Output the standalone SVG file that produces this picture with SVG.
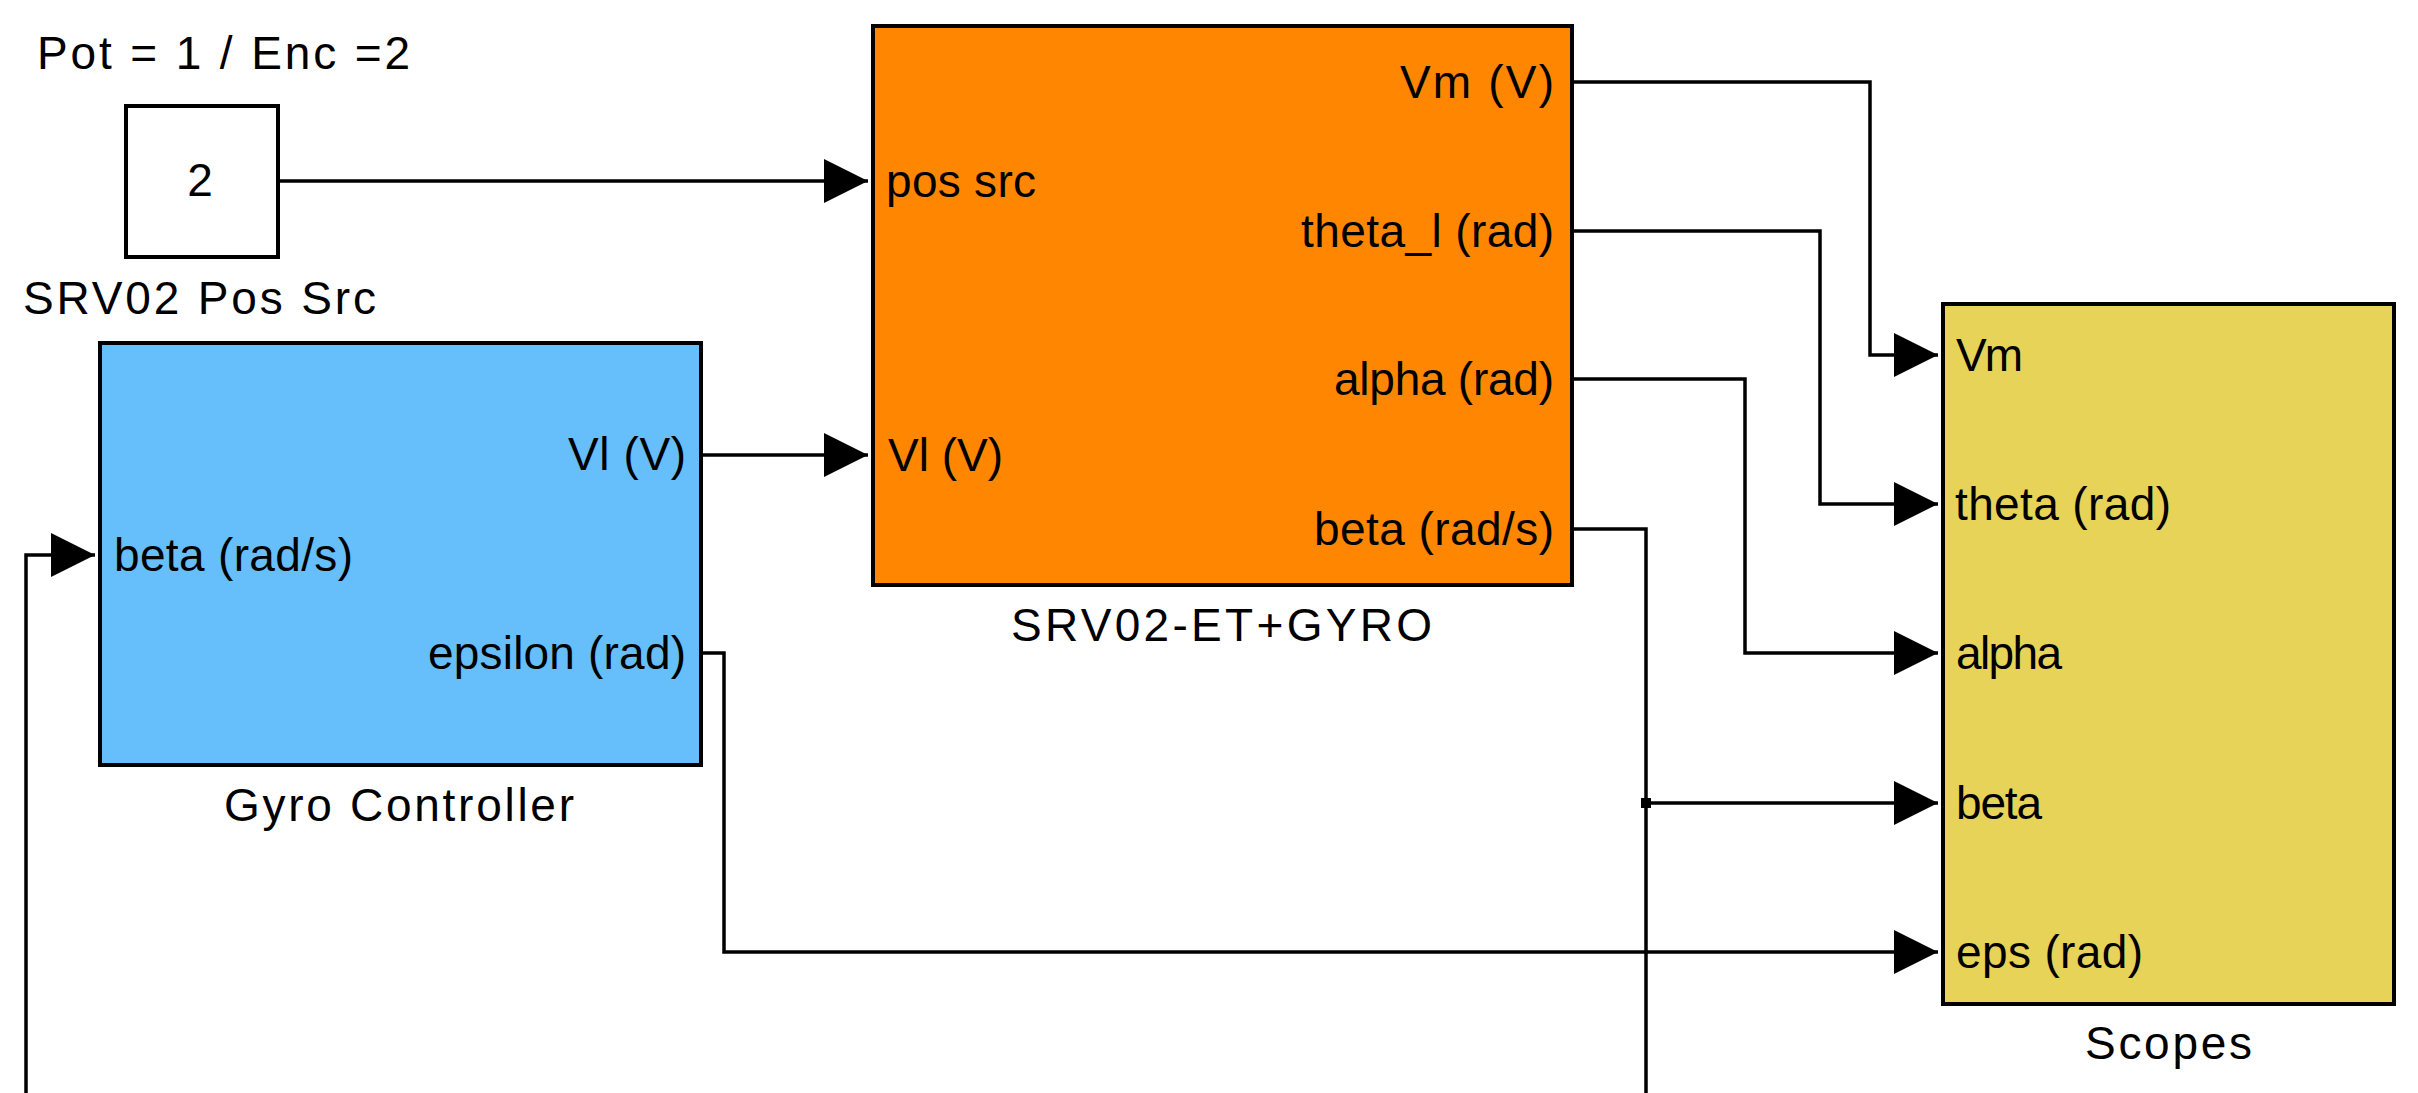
<svg xmlns="http://www.w3.org/2000/svg" width="2418" height="1093" viewBox="0 0 2418 1093">
<style>
text{font-family:"Liberation Sans",Arial,sans-serif;font-size:46px;fill:#000}
.blk{stroke:#000;stroke-width:4}
.wire{fill:none;stroke:#000;stroke-width:3.5}
.r{text-anchor:end}
.c{text-anchor:middle}
</style>
<defs>
<marker id="arr" markerUnits="userSpaceOnUse" markerWidth="46" markerHeight="48" viewBox="0 0 46 48" refX="44" refY="24" orient="auto">
<path d="M0,2 L44,24 L0,46 Z" fill="#000"/>
</marker>
</defs>
<rect width="2418" height="1093" fill="#fff"/>

<g id="connectors">
<path class="wire" d="M278,181 H868" marker-end="url(#arr)"/>
<path class="wire" d="M701,455 H868" marker-end="url(#arr)"/>
<path class="wire" d="M1572,82 H1870 V355 H1938" marker-end="url(#arr)"/>
<path class="wire" d="M1572,231 H1820 V504 H1938" marker-end="url(#arr)"/>
<path class="wire" d="M1572,379 H1745 V653 H1938" marker-end="url(#arr)"/>
<path class="wire" d="M1572,529 H1646 V1093"/>
<path class="wire" d="M1646,803 H1938" marker-end="url(#arr)"/>
<rect x="1641" y="798" width="10" height="10" fill="#000"/>
<path class="wire" d="M701,653 H724 V952 H1938" marker-end="url(#arr)"/>
<path class="wire" d="M26,1093 V555 H95" marker-end="url(#arr)"/>
</g>

<g id="pos-src">
<text x="37" y="69" textLength="373" lengthAdjust="spacing">Pot = 1 / Enc =2</text>
<rect class="blk" x="126" y="106" width="152" height="151" fill="#fff"/>
<text class="c" x="200" y="196">2</text>
<text x="23" y="314" textLength="353" lengthAdjust="spacing">SRV02 Pos Src</text>
</g>

<g id="gyro-controller">
<rect class="blk" x="100" y="343" width="601" height="422" fill="#66BFFA"/>
<text x="114" y="571" textLength="239" lengthAdjust="spacing">beta (rad/s)</text>
<text x="568" y="470" textLength="118" lengthAdjust="spacing">Vl (V)</text>
<text x="428" y="669" textLength="258" lengthAdjust="spacing">epsilon (rad)</text>
<text x="224" y="821" textLength="350" lengthAdjust="spacing">Gyro Controller</text>
</g>

<g id="srv02">
<rect class="blk" x="873" y="26" width="699" height="559" fill="#FF8600"/>
<text x="886" y="197" textLength="150" lengthAdjust="spacing">pos src</text>
<text x="888" y="471" textLength="115" lengthAdjust="spacing">Vl (V)</text>
<text x="1400" y="98" textLength="154" lengthAdjust="spacing">Vm (V)</text>
<text x="1301" y="247" textLength="253" lengthAdjust="spacing">theta_l (rad)</text>
<text x="1334" y="395" textLength="220" lengthAdjust="spacing">alpha (rad)</text>
<text x="1314" y="545" textLength="240" lengthAdjust="spacing">beta (rad/s)</text>
<text x="1011" y="641" textLength="421" lengthAdjust="spacing">SRV02-ET+GYRO</text>
</g>

<g id="scopes">
<rect class="blk" x="1943" y="304" width="451" height="700" fill="#E6D357"/>
<text x="1956" y="371" textLength="67" lengthAdjust="spacing">Vm</text>
<text x="1955" y="520" textLength="216" lengthAdjust="spacing">theta (rad)</text>
<text x="1956" y="669" textLength="106" lengthAdjust="spacing">alpha</text>
<text x="1956" y="819" textLength="86" lengthAdjust="spacing">beta</text>
<text x="1956" y="968" textLength="187" lengthAdjust="spacing">eps (rad)</text>
<text x="2085" y="1059" textLength="167" lengthAdjust="spacing">Scopes</text>
</g>
</svg>
